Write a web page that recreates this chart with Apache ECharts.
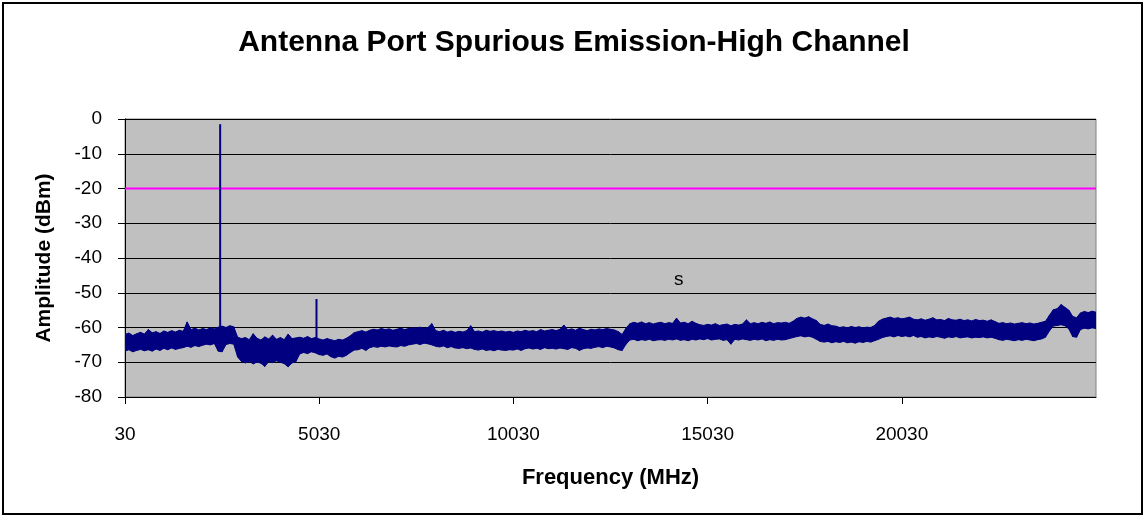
<!DOCTYPE html>
<html>
<head>
<meta charset="utf-8">
<script src="https://cdn.jsdelivr.net/npm/echarts@6/dist/echarts.min.js"></script>
<style>
html,body{margin:0;padding:0;background:#fff;}
#chart{width:1148px;height:518px;}
</style>
</head>
<body>
<div id="chart"></div>
<script>
// Sweep: 30 MHz start, 100 MHz per sample (251 samples to 25030 MHz)
const sweepStartMHz = 30;
const sweepStepMHz = 100;

// Upper envelope of the measured trace (dBm), one value per sample
const traceUpper = [
  -62.0,-61.6,-62.3,-61.8,-61.4,-61.9,-60.6,-61.5,-61.2,-61.7,
  -61.0,-61.4,-60.9,-61.3,-60.8,-61.1,-58.4,-60.6,-60.2,-60.7,
  -60.3,-60.6,-60.1,-60.4,-59.9,-59.6,-60.0,-59.5,-59.8,-62.8,
  -63.2,-62.9,-63.5,-61.8,-63.1,-63.6,-62.7,-63.3,-62.2,-63.4,
  -62.9,-63.5,-61.9,-63.2,-63.0,-62.8,-63.1,-62.6,-63.2,-62.9,
  -63.3,-63.6,-63.2,-63.5,-63.8,-63.4,-63.6,-63.1,-62.4,-61.5,
  -61.2,-60.9,-61.3,-60.8,-60.5,-60.7,-60.3,-60.6,-60.4,-60.8,
  -60.5,-60.2,-60.6,-60.3,-60.1,-60.2,-59.9,-60.3,-60.0,-58.9,
  -60.9,-61.2,-60.8,-61.3,-61.0,-61.4,-61.1,-61.3,-60.9,-59.5,
  -61.2,-61.0,-61.3,-60.8,-61.1,-60.9,-61.2,-61.0,-61.3,-61.1,
  -61.4,-61.0,-61.2,-60.8,-61.1,-60.9,-61.2,-60.6,-61.0,-60.8,
  -60.6,-60.9,-60.5,-59.3,-60.7,-60.4,-60.8,-60.2,-60.6,-60.9,
  -60.5,-60.7,-60.4,-60.6,-60.3,-60.5,-60.7,-61.2,-62.0,-60.2,
  -58.9,-58.5,-58.8,-58.4,-58.9,-58.6,-59.0,-58.7,-58.5,-58.9,
  -58.6,-58.8,-57.3,-58.7,-58.5,-58.9,-58.2,-58.8,-59.2,-59.4,
  -59.1,-59.3,-58.9,-59.4,-59.2,-59.0,-59.5,-59.1,-59.3,-59.0,
  -57.8,-58.9,-58.6,-58.9,-58.5,-58.8,-58.4,-58.9,-58.6,-58.7,
  -58.5,-58.8,-58.2,-57.4,-57.0,-57.3,-56.9,-57.5,-58.0,-59.1,
  -59.4,-59.0,-59.5,-59.6,-60.0,-59.8,-60.1,-59.7,-60.0,-59.8,
  -60.1,-59.9,-60.0,-59.4,-58.2,-57.6,-57.3,-57.0,-57.4,-57.2,
  -57.5,-57.3,-57.0,-57.6,-57.8,-57.5,-57.9,-57.6,-57.2,-57.8,
  -57.7,-58.0,-57.4,-57.8,-57.9,-57.6,-58.0,-57.8,-58.1,-57.7,
  -58.0,-57.9,-58.2,-57.8,-58.3,-58.8,-58.6,-58.9,-58.7,-59.0,
  -58.8,-58.6,-58.9,-58.7,-59.0,-58.8,-58.5,-58.2,-56.5,-54.9,
  -54.6,-53.4,-54.2,-55.0,-56.8,-57.2,-55.8,-55.4,-55.7,-55.3,
  -55.6
];

// Lower envelope of the measured trace (dBm), one value per sample
const traceLower = [
  -66.8,-66.4,-67.0,-66.6,-66.3,-66.7,-66.4,-66.8,-66.2,-66.6,
  -66.0,-66.4,-65.9,-66.3,-66.0,-65.8,-65.4,-65.7,-65.2,-65.5,
  -65.1,-64.8,-65.0,-64.6,-66.8,-67.0,-64.9,-64.6,-64.8,-68.5,
  -69.8,-70.2,-69.7,-70.5,-69.9,-70.3,-71.2,-69.8,-70.1,-69.6,
  -70.0,-70.4,-71.3,-70.2,-69.8,-67.6,-67.2,-67.5,-67.0,-67.3,
  -67.8,-68.0,-67.6,-68.4,-68.8,-68.3,-68.5,-68.0,-67.2,-66.5,
  -66.4,-66.0,-66.6,-65.8,-65.5,-65.7,-65.4,-65.6,-65.3,-65.5,
  -65.6,-65.2,-65.4,-65.0,-64.8,-64.6,-64.9,-64.5,-64.7,-65.0,
  -65.4,-65.6,-65.3,-65.8,-65.5,-65.9,-66.0,-65.8,-66.1,-65.9,
  -66.3,-66.5,-66.2,-66.6,-66.4,-66.7,-66.3,-66.5,-66.6,-66.4,
  -66.5,-66.2,-66.6,-66.1,-65.9,-66.2,-66.0,-66.3,-65.8,-66.1,
  -66.0,-66.2,-65.9,-66.1,-66.3,-65.8,-66.0,-66.6,-66.1,-65.9,
  -66.0,-65.7,-65.5,-65.8,-65.4,-65.6,-65.9,-66.4,-66.6,-64.8,
  -63.6,-63.4,-63.8,-63.5,-63.7,-63.4,-63.8,-63.6,-63.5,-63.7,
  -63.4,-63.6,-63.3,-63.7,-63.5,-63.8,-63.4,-63.6,-63.3,-63.5,
  -63.2,-63.6,-63.4,-63.3,-63.7,-63.5,-64.8,-63.4,-63.6,-63.3,
  -63.5,-63.7,-63.4,-63.6,-63.3,-63.8,-63.5,-63.7,-63.4,-63.6,
  -63.5,-63.2,-62.9,-62.6,-62.4,-62.7,-62.5,-62.8,-63.4,-64.0,
  -64.2,-64.0,-64.4,-64.1,-64.3,-64.0,-64.4,-64.2,-64.5,-64.1,
  -64.3,-64.0,-64.2,-63.8,-63.4,-62.9,-62.6,-62.4,-62.7,-62.3,
  -62.6,-62.4,-62.7,-62.3,-62.8,-62.6,-63.0,-62.7,-62.9,-62.6,
  -62.8,-63.1,-62.7,-62.9,-62.6,-63.0,-62.8,-62.7,-63.0,-62.8,
  -62.9,-62.7,-63.0,-62.8,-63.1,-63.5,-63.7,-63.4,-63.6,-63.8,
  -63.5,-63.7,-63.4,-63.6,-63.8,-63.5,-63.3,-62.8,-61.0,-59.6,
  -59.4,-59.2,-59.5,-60.4,-62.6,-62.8,-60.6,-60.2,-60.4,-60.1,
  -60.3
];

// Narrow emissions (carrier and harmonic)
const spikeFreqMHz = [2480, 4960];
const spikePeakDbm = [-1.5, -51.8];
const spikeBaseDbm = [-64.0, -66.0];

// Limit line
const limitFreqMHz = [30, 25030];
const limitDbm = [-20, -20];

// Axis ticks
const xTickValues = [30, 5030, 10030, 15030, 20030];

const navy = '#000080';
const font = "'Liberation Sans', Arial, Helvetica, sans-serif";

const freqs = traceUpper.map((_, i) => sweepStartMHz + i * sweepStepMHz);
const bandData = freqs.map((f, i) => [f, traceUpper[i], traceLower[i]]);

function renderBand(params, api) {
  const i = params.dataIndexInside;
  const n = bandData.length;
  if (i >= n - 1) return null;
  const f0 = api.value(0, i), u0 = api.value(1, i), l0 = api.value(2, i);
  const f1 = api.value(0, i + 1), u1 = api.value(1, i + 1), l1 = api.value(2, i + 1);
  const pts = [api.coord([f0, u0]), api.coord([f1, u1]), api.coord([f1, l1]), api.coord([f0, l0])];
  return {
    type: 'polygon',
    shape: { points: pts },
    style: { fill: navy, stroke: navy, lineWidth: 1 }
  };
}

const series = [
  {
    name: 'trace', type: 'custom', data: bandData,
    encode: { x: 0, y: [1, 2] },
    renderItem: renderBand, z: 3, clip: true
  },
  {
    name: 'limit', type: 'line',
    data: limitFreqMHz.map((f, i) => [f, limitDbm[i]]),
    symbol: 'none', lineStyle: { color: '#FF00FF', width: 2 }, z: 4
  }
];
spikeFreqMHz.forEach((f, i) => {
  series.push({
    name: 'spike' + i, type: 'line',
    data: [[f, spikeBaseDbm[i]], [f, spikePeakDbm[i]]],
    symbol: 'none', lineStyle: { color: navy, width: 2 }, z: 5
  });
});

const chart = echarts.init(document.getElementById('chart'), null, { renderer: 'canvas' });
chart.setOption({
  animation: false,
  backgroundColor: '#ffffff',
  title: {
    text: 'Antenna Port Spurious Emission-High Channel',
    left: 'center', top: 28, padding: 0,
    textStyle: { fontFamily: font, fontSize: 30, fontWeight: 'bold', color: '#000' }
  },
  grid: {
    left: 125, right: 52, top: 119, bottom: 121,
    show: true, backgroundColor: '#C0C0C0', borderColor: '#808080', borderWidth: 1
  },
  xAxis: {
    type: 'value', min: 30, max: 25030,
    name: 'Frequency (MHz)', nameLocation: 'middle', nameGap: 70,
    nameTextStyle: { fontFamily: font, fontSize: 22, fontWeight: 'bold', color: '#000' },
    axisLine: { show: true, onZero: false, lineStyle: { color: '#000', width: 1 } },
    axisTick: { show: true, length: 7, customValues: xTickValues, lineStyle: { color: '#000' } },
    axisLabel: {
      customValues: xTickValues, margin: 28, fontFamily: font, fontSize: 19, color: '#000',
      formatter: v => String(v)
    },
    splitLine: { show: false }
  },
  yAxis: {
    type: 'value', min: -80, max: 0, interval: 10,
    name: 'Amplitude (dBm)', nameLocation: 'middle', nameGap: 70,
    nameTextStyle: { fontFamily: font, fontSize: 21, fontWeight: 'bold', color: '#000' },
    axisLine: { show: true, lineStyle: { color: '#000', width: 1 } },
    axisTick: { show: true, length: 7, lineStyle: { color: '#000' } },
    axisLabel: { margin: 23, fontFamily: font, fontSize: 19, color: '#000' },
    splitLine: { show: true, lineStyle: { color: '#000', width: 1 } }
  },
  graphic: [
    {
      type: 'rect', shape: { x: 3, y: 3, width: 1139, height: 511 },
      style: { fill: 'none', stroke: '#000', lineWidth: 2 }, z: -1, silent: true
    },
    {
      type: 'text', left: 674, top: 270,
      style: { text: 's', fontFamily: font, fontSize: 19, fill: '#000' }, z: 10
    }
  ],
  series: series
});
</script>
</body>
</html>
